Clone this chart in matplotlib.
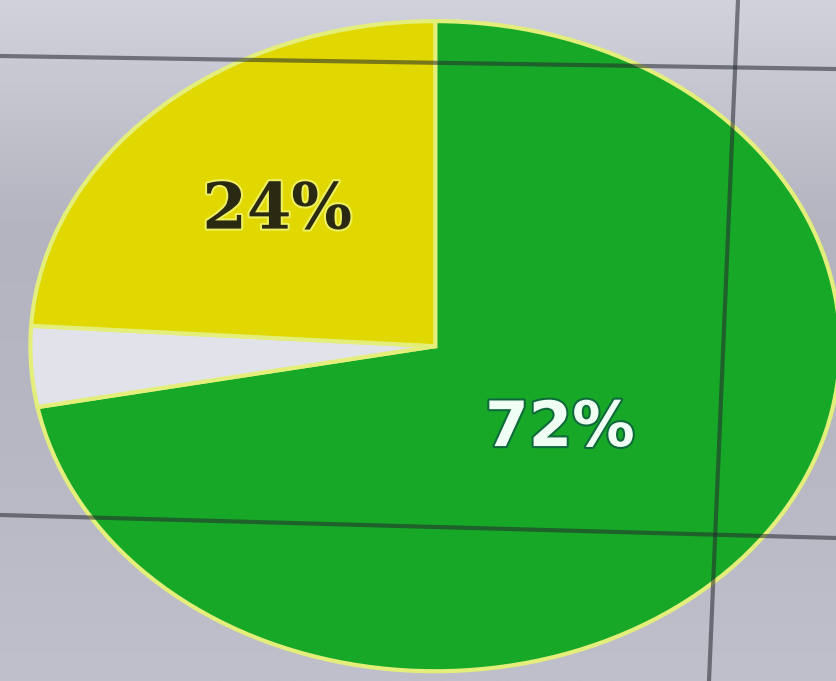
import numpy as np
import matplotlib.pyplot as plt
import matplotlib.patheffects as pe

# slice data, clockwise from 12 o'clock
labels = ['Green', 'Other', 'Yellow']
shares = [72, 4, 24]
colors = ['#18a828', '#e2e2ea', '#e0d800']
label_colors = ['#f0fff4', None, '#2a2a12']
label_radius = [0.40, None, 0.57]

fig = plt.figure(figsize=(8.36, 6.81), dpi=100)

# background: photographed screen, light grey with a soft vertical gradient
bg = fig.add_axes([0, 0, 1, 1], zorder=0)
grad = np.linspace(0, 1, 256).reshape(-1, 1)
bg.imshow(grad, aspect='auto', cmap=plt.cm.colors.LinearSegmentedColormap.from_list(
    'bg', ['#d2d2dc', '#b4b4c0', '#b8b8c4', '#c0c0cc']), extent=[0, 1, 0, 1])
bg.set_axis_off()

ax = fig.add_axes([0, 0, 1, 1], zorder=1)
ax.patch.set_alpha(0)
wedges, _ = ax.pie(shares, colors=colors, startangle=90, counterclock=False,
                   wedgeprops=dict(edgecolor='#e4ee7a', linewidth=3))
ax.set_aspect('auto')
ax.set_xlim(-1.075, 0.99)
ax.set_ylim(-1.03, 1.065)
ax.set_axis_off()

for w, share, c, r in zip(wedges, shares, label_colors, label_radius):
    if c is None:
        continue
    mid = np.deg2rad((w.theta1 + w.theta2) / 2)
    x, y = r * np.cos(mid), r * np.sin(mid)
    if c.startswith('#f'):
        ax.text(x, y, f'{share}%', ha='center', va='center', color=c,
                fontsize=45, fontweight='bold', family='DejaVu Sans',
                path_effects=[pe.withStroke(linewidth=3, foreground='#0e6a3a')])
    else:
        ax.text(x, y, f'{share}%', ha='center', va='center', color=c,
                fontsize=46, fontweight='bold', family='DejaVu Serif',
                path_effects=[pe.withStroke(linewidth=3, foreground='#eef060')])

# screen table lines running across the photo
top = fig.add_axes([0, 0, 1, 1], zorder=2)
top.set_xlim(0, 836)
top.set_ylim(681, 0)
top.set_axis_off()
top.patch.set_alpha(0)
top.plot([0, 836], [56, 69], color='#23282e', lw=3, alpha=0.55)
top.plot([0, 836], [515, 538], color='#23282e', lw=3, alpha=0.55)
top.plot([738, 709], [0, 681], color='#23282e', lw=3, alpha=0.55)

fig.savefig('out.png', dpi=100)
